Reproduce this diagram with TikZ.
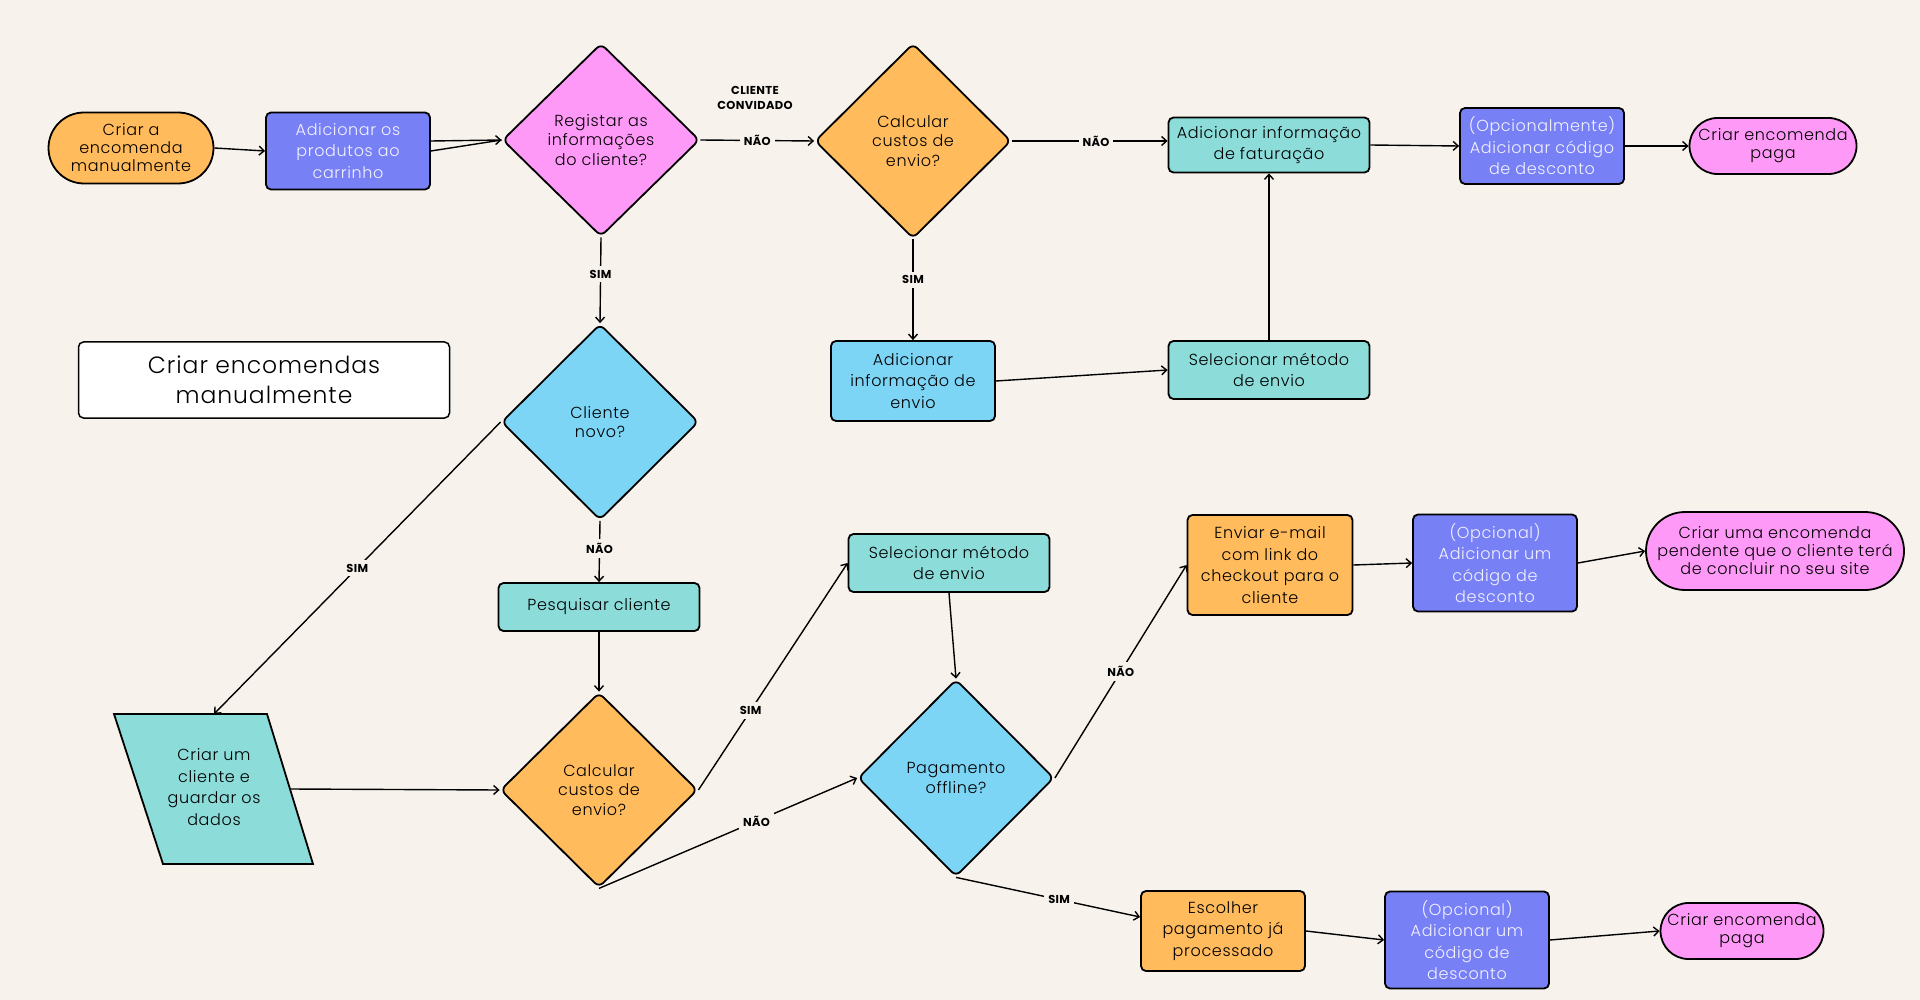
\documentclass[tikz,border=0pt]{standalone}
\usepackage{fontspec}
\setmainfont{Poppins}[LetterSpace=3]
\newfontfamily\lightf{Poppins Light}[LetterSpace=4]
\usetikzlibrary{shapes.geometric,shapes.misc,arrows.meta,calc}
\definecolor{bgc}{HTML}{F7F3EC}
\definecolor{orng}{HTML}{FFBB5C}
\definecolor{purp}{HTML}{7880F5}
\definecolor{pnk}{HTML}{FF99F8}
\definecolor{lblue}{HTML}{7DD5F6}
\definecolor{tealc}{HTML}{8CDCDA}
\definecolor{ptext}{HTML}{F2F2FF}
\begin{document}
\begin{tikzpicture}[x=1pt,y=-1pt,
  every node/.style={font=\lightf\fontsize{16}{18}\selectfont, align=center, text=black},
  box/.style={draw, line width=1.8pt, rounded corners=5pt, inner sep=2pt, font=\lightf\fontsize{16}{21.5}\selectfont},
  dia/.style={diamond, draw, line width=1.8pt, rounded corners=6pt, inner sep=0pt, font=\lightf\fontsize{16}{19.5}\selectfont},
  term/.style={rounded rectangle, draw, line width=1.8pt, inner sep=0pt},
  lab/.style={fill=bgc, font=\rmfamily\fontsize{11.5}{13}\selectfont\bfseries, inner sep=4pt},
  arr/.style={line width=1.4pt, -{Straight Barb[length=5pt,width=9pt]}},
  ln/.style={line width=1.4pt}
]
\useasboundingbox (0,0) rectangle (1920,1000);
\fill[bgc] (0,0) rectangle (1920,1000);

% top row
\node[term, fill=orng, minimum width=165, minimum height=71] (start) at (131,148) {Criar a\\encomenda\\manualmente};
\node[box, fill=purp, text=ptext, minimum width=164, minimum height=77] (prod) at (348,151) {Adicionar os\\produtos ao\\carrinho};
\node[dia, fill=pnk, minimum width=197, minimum height=193] (reg) at (601,140) {Registar as\\informações\\do cliente?};
\node[dia, fill=orng, minimum width=196, minimum height=195] (calc1) at (913,141) {Calcular\\custos de\\envio?};
\node[box, fill=tealc, minimum width=201, minimum height=55] (fat) at (1269,145) {Adicionar informação\\de faturação};
\node[box, fill=purp, text=ptext, minimum width=164, minimum height=76] (opc1) at (1542,146) {(Opcionalmente)\\Adicionar código\\de desconto};
\node[term, fill=pnk, minimum width=167, minimum height=56] (paga1) at (1773,146) {Criar encomenda\\paga};

% second row
\node[dia, fill=lblue, minimum width=197, minimum height=196] (cnovo) at (600,422) {Cliente\\novo?};
\node[box, fill=lblue, minimum width=164, minimum height=80] (addenv) at (913,381) {Adicionar\\informação de\\envio};
\node[box, fill=tealc, minimum width=201, minimum height=58] (sel1) at (1269,370) {Selecionar método\\de envio};
\node[box, fill=white, line width=1.5pt, minimum width=371, minimum height=76, font=\lightf\fontsize{23.5}{30}\selectfont] (title) at (264,380) {Criar encomendas\\manualmente};

% lower part
\node[box, fill=tealc, minimum width=201, minimum height=48] (pesq) at (599,607) {Pesquisar cliente};
\draw[line width=1.8pt, fill=tealc] (114,714) -- (267,714) -- (313,864) -- (163,864) -- cycle;
\node[font=\lightf\fontsize{16}{21.5}\selectfont] (cc) at (214,787) {Criar um\\cliente e\\guardar os\\dados};
\coordinate (ccT) at (214,714);
\coordinate (ccR) at (290,789);
\node[dia, fill=orng, minimum width=197, minimum height=195] (calc2) at (599,790) {Calcular\\custos de\\envio?};
\node[box, fill=tealc, minimum width=201, minimum height=58] (sel2) at (949,563) {Selecionar método\\de envio};
\node[dia, fill=lblue, minimum width=196, minimum height=197] (pag) at (956,778) {Pagamento\\offline?};
\node[box, fill=orng, minimum width=165, minimum height=100] (email) at (1270,565) {Enviar e-mail\\com link do\\checkout para o\\cliente};
\node[box, fill=purp, text=ptext, minimum width=164, minimum height=97] (opc2) at (1495,563) {(Opcional)\\Adicionar um\\código de\\desconto};
\node[term, fill=pnk, minimum width=258, minimum height=78] (pend) at (1775,551) {Criar uma encomenda\\pendente que o cliente terá\\de concluir no seu site};
\node[box, fill=orng, minimum width=164, minimum height=80] (esc) at (1223,931) {Escolher\\pagamento já\\processado};
\node[box, fill=purp, text=ptext, minimum width=164, minimum height=97] (opc3) at (1467,940) {(Opcional)\\Adicionar um\\código de\\desconto};
\node[term, fill=pnk, minimum width=163, minimum height=56] (paga2) at (1742,931) {Criar encomenda\\paga};

% connectors
\draw[arr] (start.east) -- (prod.west);
\draw[arr] ($(prod.east)+(0,-10)$) -- (reg.west);
\draw[ln] (prod.east) -- (reg.west);
\draw[arr] (reg.east) -- node[lab]{NÃO} (calc1.west);
\node[font=\rmfamily\fontsize{11.5}{14.5}\selectfont\bfseries] (conv) at (755,98) {CLIENTE\\CONVIDADO};
\draw[arr] (calc1.east) -- node[lab,pos=0.54]{NÃO} (calc1.east -| fat.west);
\draw[arr] (fat.east) -- (opc1.west);
\draw[arr] (opc1.east) -- (paga1.west);
\draw[arr] (reg.south) -- node[lab,pos=0.43]{SIM} (cnovo.north);
\draw[arr] (calc1.south) -- node[lab,pos=0.4]{SIM} (addenv.north);
\draw[arr] (addenv.east) -- (sel1.west);
\draw[arr] (sel1.north) -- (fat.south);
\draw[arr] (cnovo.west) -- node[lab]{SIM} (ccT);
\draw[arr] (cnovo.south) -- node[lab,pos=0.45]{NÃO} (pesq.north);
\draw[arr] (pesq.south) -- (calc2.north);
\draw[arr] (ccR) -- (calc2.west);
\draw[arr] (calc2.east) -- node[lab,pos=0.35]{SIM} (sel2.west);
\draw[arr] (calc2.south) -- node[lab,pos=0.61]{NÃO} (pag.west);
\draw[arr] (sel2.south) -- (pag.north);
\draw[arr] (pag.east) -- node[lab]{NÃO} (email.west);
\draw[arr] (email.east) -- (opc2.west);
\draw[arr] (opc2.east) -- (pend.west);
\draw[arr] (pag.south) -- node[lab,pos=0.56]{SIM} ($(esc.west)+(0,-14)$);
\draw[arr] (esc.east) -- (opc3.west);
\draw[arr] (opc3.east) -- (paga2.west);
\end{tikzpicture}
\end{document}
